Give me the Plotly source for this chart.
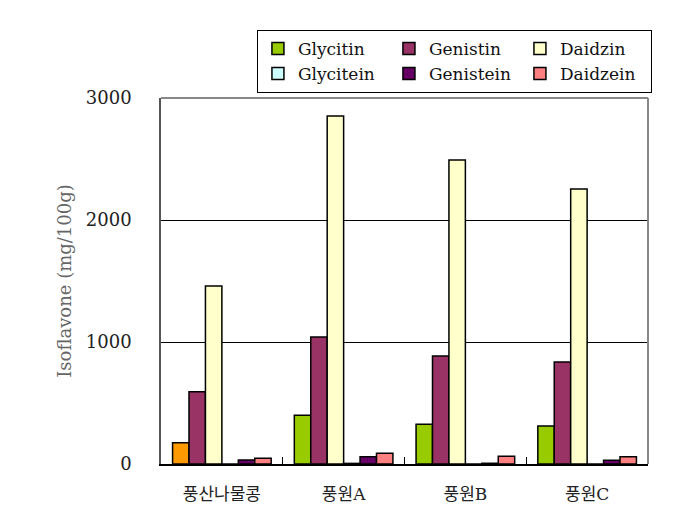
import plotly.graph_objects as go

categories = ["풍산나물콩", "풍원A", "풍원B", "풍원C"]
series_names = ["Glycitin", "Genistin", "Daidzin", "Glycitein", "Genistein", "Daidzein"]
glycitin = [175, 399, 325, 311]
genistin = [592, 1041, 885, 836]
daidzin = [1460, 2852, 2492, 2254]
glycitein = [0, 5, 0, 0]
genistein = [33, 60, 6, 30]
daidzein = [47, 88, 63, 60]
values = [glycitin, genistin, daidzin, glycitein, genistein, daidzein]
colors = ["#99CC00", "#993366", "#FFFFCC", "#CCFFFF", "#660066", "#FF8080"]
first_glycitin_color = "#FF9900"
y_ticks = [0, 1000, 2000, 3000]

FONT = "DejaVu Serif, Noto Sans CJK KR, serif"

fig = go.Figure()
for name, vals, col in zip(series_names, values, colors):
    marker_colors = [col] * len(vals)
    show = True
    if name == "Glycitin":
        marker_colors[0] = first_glycitin_color
        show = False
        # legend-only entry (on an overlay axis so it takes no slot in the groups)
        fig.add_trace(go.Bar(
            x=categories, y=[None] * len(vals), name=name, xaxis="x2",
            marker=dict(color=col, line=dict(color="black", width=1.5)),
            legendrank=1, hoverinfo="skip",
        ))
    fig.add_trace(go.Bar(
        x=categories, y=vals, name=name, showlegend=show,
        marker=dict(color=marker_colors, line=dict(color="black", width=1.5)),
    ))

fig.update_layout(
    width=687, height=528,
    margin=dict(l=153, r=47, t=90, b=72),
    paper_bgcolor="white", plot_bgcolor="white",
    barmode="group", bargap=0.19, bargroupgap=0,
    font=dict(family=FONT, size=17, color="#222222"),
    showlegend=True,
    legend=dict(
        orientation="h", x=0.197, y=1.186, xanchor="left", yanchor="top",
        entrywidth=86, entrywidthmode="pixels",
        bordercolor="black", borderwidth=1, bgcolor="white",
        font=dict(family=FONT, size=17, color="#111111"),
        traceorder="normal", itemwidth=30, tracegroupgap=0,
    ),
    xaxis2=dict(overlaying="x", matches="x", visible=False),
)
fig.update_layout(xaxis=dict(showline=True, linecolor="black", linewidth=1.5,
    ticks="inside", tickson="boundaries", ticklen=7, tickcolor="black",
    showgrid=False, ticklabelstandoff=14,
    tickfont=dict(family=FONT, size=17, color="#222222")))
fig.update_yaxes(
    range=[0, 3000], tickvals=y_ticks, ticktext=[str(v) for v in y_ticks],
    showgrid=True, gridcolor="black", gridwidth=1,
    showline=True, linecolor="#555555", linewidth=1.5,
    zeroline=False, ticks="", ticklen=0, ticklabelstandoff=24,
    tickfont=dict(family=FONT, size=18, color="#222222"),
    title=dict(text="Isoflavone (mg/100g)", font=dict(family=FONT, size=18, color="#666666"), standoff=10),
)
# plot area border (top and right, grey)
fig.add_shape(type="line", xref="paper", yref="paper", x0=0, x1=1, y0=1, y1=1,
              line=dict(color="#888888", width=2))
fig.add_shape(type="line", xref="paper", yref="paper", x0=1, x1=1, y0=0, y1=1,
              line=dict(color="#888888", width=2))

fig.write_html("out.html")
